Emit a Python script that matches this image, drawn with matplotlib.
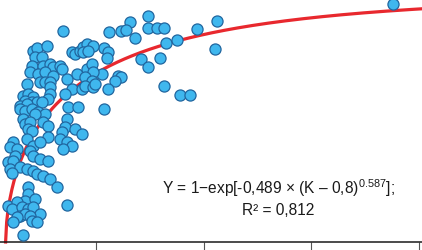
#! /usr/bin/python3
# scatter of Y against K with the fitted saturation curve
import matplotlib
matplotlib.use('Agg')
import matplotlib.pyplot as plt
import numpy as np

# data
k_vals = [7.41, 6.58, 5.60, 6.16, 6.39, 7.41, 7.83, 8.16, 6.81, 9.69,
	10.62, 5.37, 5.56, 5.51, 8.25, 8.76, 10.53, 7.09, 7.97, 7.41,
	5.28, 6.02, 6.16, 5.88, 5.56, 8.16, 8.90, 9.37, 5.37, 3.47,
	18.79, 2.07, 2.26, 2.72, 2.17, 2.49, 3.88, 4.02, 4.26, 4.40,
	4.58, 4.86, 4.40, 4.63, 2.03, 2.54, 2.86, 3.00, 3.33, 3.42,
	1.93, 2.31, 2.63, 3.00, 3.65, 4.12, 4.58, 4.81, 4.86, 4.49,
	4.81, 2.40, 2.63, 2.86, 1.79, 2.86, 3.88, 3.56, 4.35, 4.49,
	4.86, 4.95, 1.61, 1.84, 2.07, 1.70, 2.03, 2.26, 2.86, 2.77,
	2.49, 1.47, 3.70, 4.16, 1.79, 1.47, 1.70, 2.03, 2.31, 2.63,
	2.17, 3.65, 1.61, 1.70, 1.93, 2.54, 2.77, 1.84, 2.03, 2.77,
	3.56, 3.42, 4.02, 4.35, 3.33, 3.65, 3.88, 3.47, 1.79, 2.07,
	2.40, 1.14, 1.00, 1.33, 1.93, 2.07, 2.40, 2.77, 1.24, 0.91,
	1.14, 1.00, 1.47, 1.79, 2.07, 2.26, 2.54, 2.86, 1.10, 3.19,
	1.84, 1.84, 1.70, 2.17, 0.91, 1.33, 1.10, 1.56, 1.84, 2.07,
	2.40, 1.47, 1.70, 1.93, 1.33, 1.14, 2.03, 2.26, 3.65, 1.61]
y_vals = [0.909, 0.885, 0.845, 0.849, 0.853, 0.861, 0.861, 0.861, 0.821, 0.857,
	0.889, 0.780, 0.764, 0.740, 0.800, 0.813, 0.776, 0.736, 0.740, 0.704,
	0.676, 0.668, 0.664, 0.648, 0.615, 0.628, 0.591, 0.591, 0.535, 0.849,
	0.957, 0.768, 0.780, 0.788, 0.744, 0.744, 0.764, 0.756, 0.768, 0.784,
	0.796, 0.788, 0.764, 0.768, 0.708, 0.708, 0.716, 0.704, 0.708, 0.696,
	0.684, 0.676, 0.684, 0.668, 0.656, 0.676, 0.696, 0.716, 0.684, 0.664,
	0.648, 0.644, 0.644, 0.644, 0.636, 0.623, 0.615, 0.595, 0.615, 0.628,
	0.623, 0.636, 0.587, 0.595, 0.583, 0.567, 0.563, 0.563, 0.595, 0.575,
	0.563, 0.547, 0.543, 0.543, 0.555, 0.535, 0.527, 0.535, 0.523, 0.515,
	0.515, 0.495, 0.495, 0.475, 0.483, 0.483, 0.467, 0.455, 0.447, 0.422,
	0.463, 0.442, 0.455, 0.434, 0.414, 0.402, 0.386, 0.374, 0.414, 0.386,
	0.402, 0.402, 0.382, 0.374, 0.366, 0.346, 0.334, 0.326, 0.346, 0.322,
	0.326, 0.294, 0.302, 0.294, 0.286, 0.274, 0.265, 0.253, 0.278, 0.221,
	0.221, 0.193, 0.165, 0.173, 0.145, 0.161, 0.133, 0.141, 0.133, 0.141,
	0.113, 0.105, 0.113, 0.105, 0.101, 0.080, 0.084, 0.080, 0.149, 0.028]

# fitted model parameters (from the equation on the chart)
fit_a = 0.489
fit_k0 = 0.8
fit_b = 0.587
x_ticks = [5, 10, 15, 20]

plt.rcParams['font.family'] = ['Liberation Sans', 'DejaVu Sans']
plt.rcParams['mathtext.fontset'] = 'custom'
plt.rcParams['mathtext.rm'] = 'Liberation Sans'
plt.rcParams['mathtext.default'] = 'regular'

fig = plt.figure(figsize=(4.22, 2.51), dpi=100)
ax = fig.add_axes([0, 8 / 251, 1, 243 / 251])

k_fit = np.linspace(fit_k0, 20.2, 400)
y_fit = 1 - np.exp(-fit_a * (k_fit - fit_k0) ** fit_b)
ax.plot(k_fit, y_fit, color='#e8282e', lw=2.3, zorder=2, clip_on=False)
ax.scatter(k_vals, y_vals, s=64, facecolor='#3fb7ee', edgecolor='#21669f',
	linewidth=0.9, zorder=3)

ax.set_xlim(0.54, 20.14)
ax.set_ylim(0, 0.9775)
for side in ['left', 'top', 'right']:
	ax.spines[side].set_visible(False)
ax.spines['bottom'].set_color('#1a1a1a')
ax.spines['bottom'].set_linewidth(1.1)
ax.set_xticks(x_ticks)
ax.set_xticklabels([])
ax.set_yticks([])
ax.tick_params(axis='x', direction='out', length=7, width=0.8, color='#555555')

fig.text(0.659, 0.251, 'Y = 1\u2212exp[-0,489 \u00d7 (K \u2013 0,8)$^{0.587}$];',
	ha='center', va='center', fontsize=11.2, color='#1a1a1a')
fig.text(0.659, 0.163, 'R\u00b2 = 0,812', ha='center', va='center',
	fontsize=11.2, color='#1a1a1a')

plt.savefig('out.png', dpi=100)
